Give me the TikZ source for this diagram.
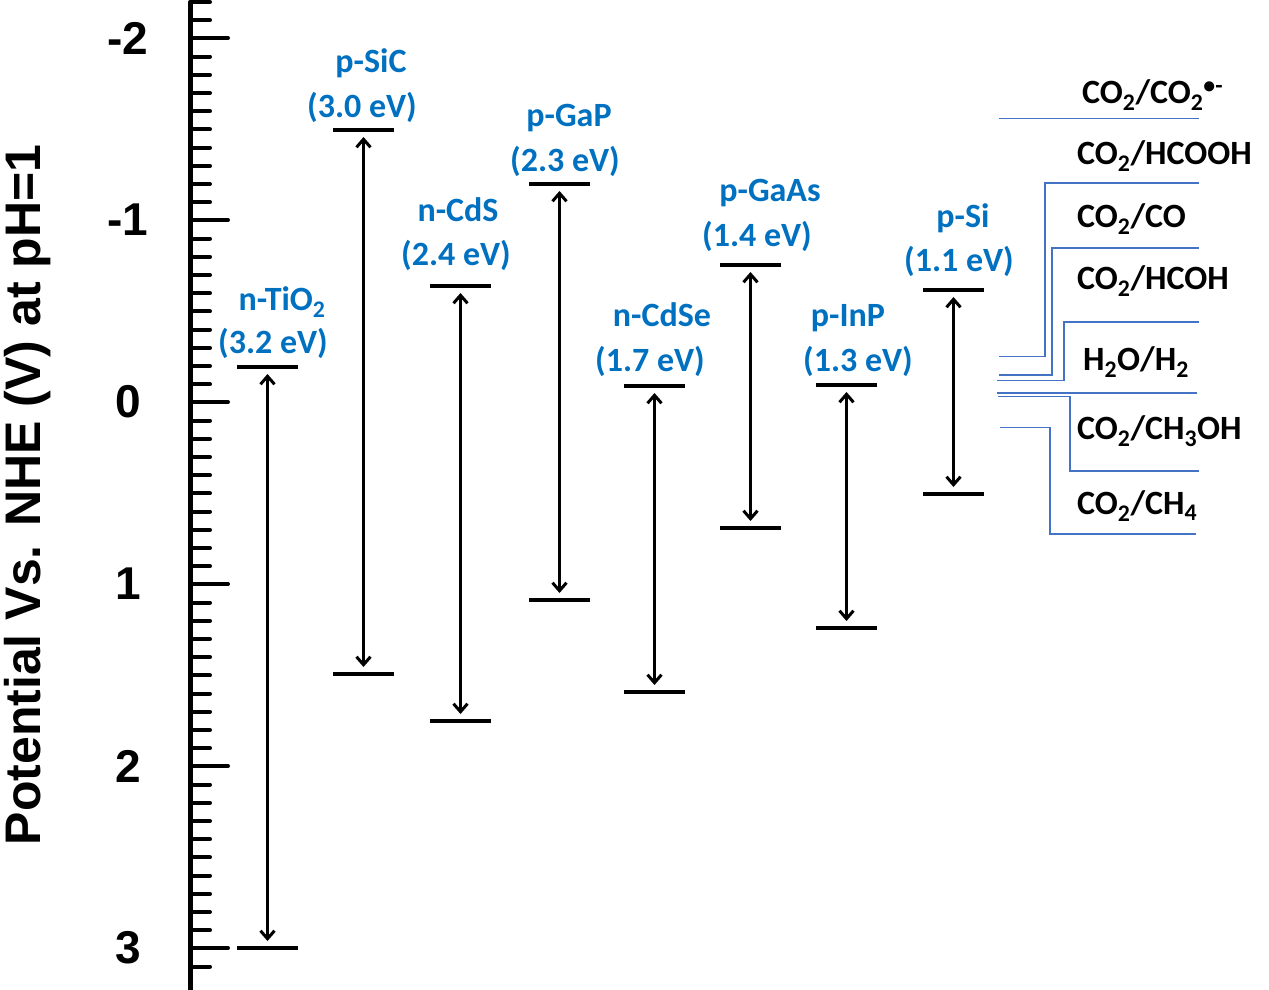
\documentclass[tikz,border=0pt]{standalone}
\usepackage{fontspec}
\setmainfont{Carlito}
\newfontfamily\arialfont{Liberation Sans}
\usetikzlibrary{arrows.meta}
\newcommand{\sbs}[1]{\textsubscript{#1}}
\definecolor{semiblue}{RGB}{0,112,192}
\definecolor{redoxblue}{RGB}{68,114,196}
\tikzset{>={Straight Barb[length=8pt,width=14pt]}}
\begin{document}
\begin{tikzpicture}
    [
      x=1pt, y=-1pt,
      level/.style={line width=3.5pt},
      gap/.style={<->, draw, line width=3pt},
      semi/.style={text=semiblue, font=\fontsize{34}{36}\selectfont\bfseries, inner sep=0pt, anchor=base},
      redox/.style={draw=redoxblue, line width=1.2pt},
      couple/.style={font=\fontsize{34}{36}\selectfont\bfseries, inner sep=0pt, anchor=base},
      ticklab/.style={font=\arialfont\bfseries\fontsize{46}{48}\selectfont, inner sep=0pt}
    ]
    \useasboundingbox (0,0) rectangle (1269,990);
    % axis
    \draw [line width=5pt] (190,2) -- (190,990);
    \foreach \k in {0,...,53} {
      \draw [line width=4pt, line cap=round] (190,{2+18.2*\k}) -- (210,{2+18.2*\k});
    }
    \foreach \v/\yy in {-2/38,-1/220,0/402,1/584,2/766,3/948} {
      \draw [line width=4pt, line cap=round] (190,\yy) -- (228,\yy);
      \node [ticklab] (tick\v) at (128,\yy) {\v};
    }
    \node [rotate=90, font=\arialfont\bfseries\fontsize{50}{52}\selectfont, inner sep=0pt] (title) at (28,495) {Potential Vs. NHE (V) at pH=1};
    % band edges
    \foreach \name/\xa/\top/\bot in {tio/237/367/948, sic/333/130/674, cds/430/286/721, gap/529/184/600, cdse/624/386/692, gaas/720/265/528, inp/816/385/628, si/923/290/494} {
      \coordinate (\name-cb) at (\xa+30.5,\top);
      \coordinate (\name-vb) at (\xa+30.5,\bot);
      \draw [level] (\xa,\top) -- (\xa+61,\top);
      \draw [level] (\xa,\bot) -- (\xa+61,\bot);
      \draw [gap] ([yshift=-7pt]\name-cb) -- ([yshift=7pt]\name-vb);
    }
    \node [semi] (tio-n) at (282,310) {n-TiO\sbs{2}};
    \node [semi] (tio-e) at (273,353) {(3.2 eV)};
    \node [semi] (sic-n) at (371,73) {p-SiC};
    \node [semi] (sic-e) at (362,117) {(3.0 eV)};
    \node [semi] (cds-n) at (458,221) {n-CdS};
    \node [semi] (cds-e) at (456,265) {(2.4 eV)};
    \node [semi] (gap-n) at (569,126) {p-GaP};
    \node [semi] (gap-e) at (565,171) {(2.3 eV)};
    \node [semi] (cdse-n) at (662,326) {n-CdSe};
    \node [semi] (cdse-e) at (650,371) {(1.7 eV)};
    \node [semi] (gaas-n) at (770,201) {p-GaAs};
    \node [semi] (gaas-e) at (757,246) {(1.4 eV)};
    \node [semi] (inp-n) at (848,326) {p-InP};
    \node [semi] (inp-e) at (858,371) {(1.3 eV)};
    \node [semi] (si-n) at (963,227) {p-Si};
    \node [semi] (si-e) at (959,271) {(1.1 eV)};
    % redox couples
    \draw [redox] (999,118.7) -- (1199,118.7);
    \draw [redox] (999,356.7) -- (1045,356.7) -- (1045,183) -- (1199,183);
    \draw [redox] (999,375) -- (1052,375) -- (1052,248) -- (1199,248);
    \draw [redox] (997,380.7) -- (1064,380.7) -- (1064,322) -- (1199,322);
    \draw [redox] (997,393) -- (1197,393);
    \draw [redox] (998,396.7) -- (1070,396.7) -- (1070,471) -- (1199,471);
    \draw [redox] (1000,427.7) -- (1050,427.7) -- (1050,534) -- (1196,534);
    \node [couple, anchor=base west] (c-rad) at (1082,103) {CO\sbs{2}/CO\sbs{2}\textsuperscript{•-}};
    \node [couple, anchor=base west] (c-hcooh) at (1077,164) {CO\sbs{2}/HCOOH};
    \node [couple, anchor=base west] (c-co) at (1077,227) {CO\sbs{2}/CO};
    \node [couple, anchor=base west] (c-hcoh) at (1077,289) {CO\sbs{2}/HCOH};
    \node [couple, anchor=base west] (c-h2) at (1083,370) {H\sbs{2}O/H\sbs{2}};
    \node [couple, anchor=base west] (c-meoh) at (1077,439) {CO\sbs{2}/CH\sbs{3}OH};
    \node [couple, anchor=base west] (c-ch4) at (1077,514) {CO\sbs{2}/CH\sbs{4}};
\end{tikzpicture}
\end{document}
